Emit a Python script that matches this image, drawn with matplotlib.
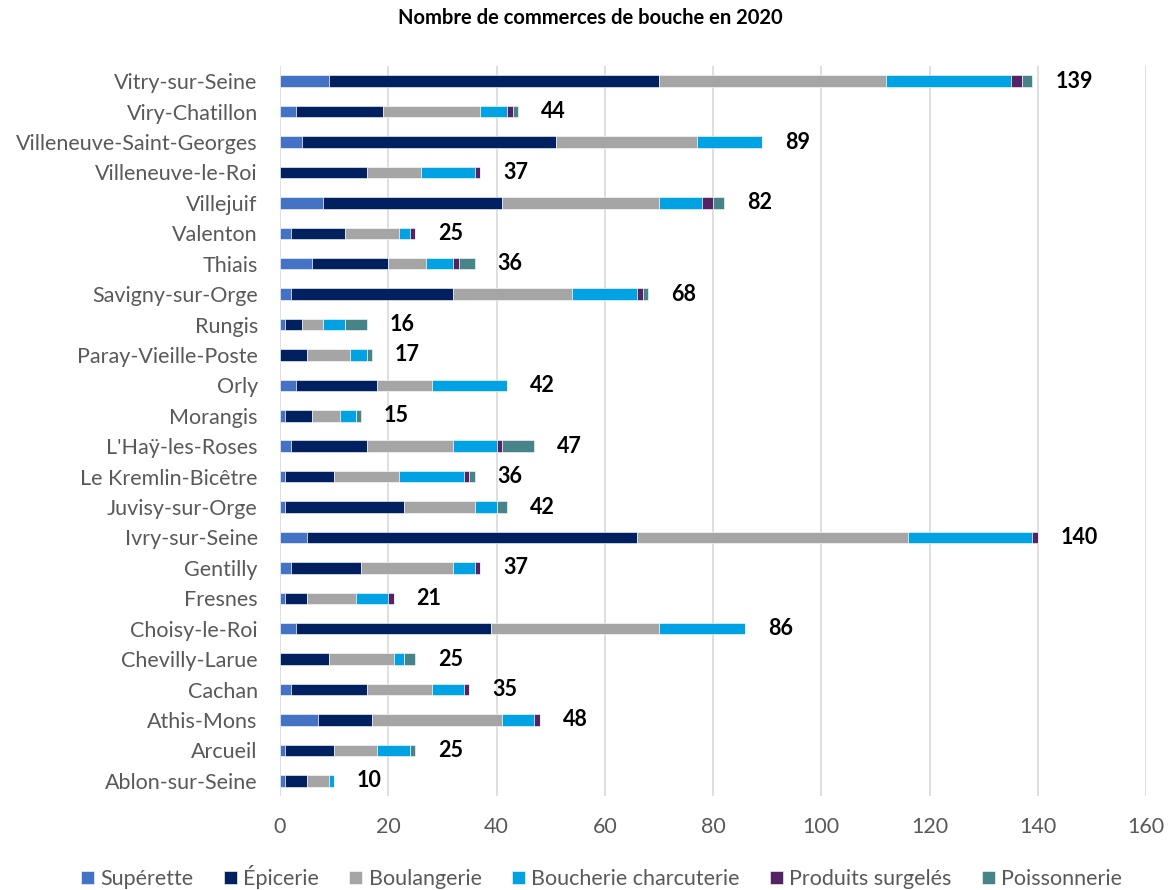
import numpy as np
import matplotlib.pyplot as plt

plt.rcParams['font.family'] = ['Lato', 'DejaVu Sans']

# communes, de bas en haut
communes = ["Ablon-sur-Seine", "Arcueil", "Athis-Mons", "Cachan", "Chevilly-Larue",
            "Choisy-le-Roi", "Fresnes", "Gentilly", "Ivry-sur-Seine", "Juvisy-sur-Orge",
            "Le Kremlin-Bicêtre", "L'Haÿ-les-Roses", "Morangis", "Orly",
            "Paray-Vieille-Poste", "Rungis", "Savigny-sur-Orge", "Thiais", "Valenton",
            "Villejuif", "Villeneuve-le-Roi", "Villeneuve-Saint-Georges",
            "Viry-Chatillon", "Vitry-sur-Seine"]

superette     = [1, 1, 7, 2, 0, 3, 1, 2, 5, 1, 1, 2, 1, 3, 0, 1, 2, 6, 2, 8, 0, 4, 3, 9]
epicerie      = [4, 9, 10, 14, 9, 36, 4, 13, 61, 22, 9, 14, 5, 15, 5, 3, 30, 14, 10, 33, 16, 47, 16, 61]
boulangerie   = [4, 8, 24, 12, 12, 31, 9, 17, 50, 13, 12, 16, 5, 10, 8, 4, 22, 7, 10, 29, 10, 26, 18, 42]
boucherie     = [1, 6, 6, 6, 2, 16, 6, 4, 23, 4, 12, 8, 3, 14, 3, 4, 12, 5, 2, 8, 10, 12, 5, 23]
surgeles      = [0, 0, 1, 1, 0, 0, 1, 1, 1, 0, 1, 1, 0, 0, 0, 0, 1, 1, 1, 2, 1, 0, 1, 2]
poissonnerie  = [0, 1, 0, 0, 2, 0, 0, 0, 0, 2, 1, 6, 1, 0, 1, 4, 1, 3, 0, 2, 0, 0, 1, 2]

series = [
    ("Supérette", superette, "#4472C4"),
    ("Épicerie", epicerie, "#002060"),
    ("Boulangerie", boulangerie, "#A5A5A5"),
    ("Boucherie charcuterie", boucherie, "#00A2E3"),
    ("Produits surgelés", surgeles, "#522463"),
    ("Poissonnerie", poissonnerie, "#468489"),
]

fig = plt.figure(figsize=(11.75, 8.9), dpi=100)
ax = fig.add_axes([280 / 1175, 1 - 796 / 890, 866 / 1175, 730 / 890])

y = np.arange(len(communes))
left = np.zeros(len(communes))
for name, vals, color in series:
    vals = np.array(vals, dtype=float)
    ax.barh(y, vals, left=left, height=0.38, color=color, label=name,
            edgecolor="white", linewidth=0.4, zorder=3)
    left += vals

# total au bout de chaque barre
for yi, tot in zip(y, left):
    ax.annotate(f"{int(tot)}", xy=(tot, yi), xytext=(16.5, 0), textcoords="offset points",
                va="center", ha="left", fontsize=15.5, fontweight="bold", color="black")

ax.set_xlim(0, 160)
ax.set_ylim(-0.5, len(communes) - 0.5)
ax.set_xticks(np.arange(0, 161, 20))
ax.set_yticks(y)
ax.set_yticklabels(communes)
ax.tick_params(axis="both", length=0, colors="#595959", labelsize=15.5)
ax.tick_params(axis="x", pad=15)
ax.tick_params(axis="y", pad=16)
ax.xaxis.grid(True, color="#D9D9D9", linewidth=1.2, zorder=0)
for s in ax.spines.values():
    s.set_visible(False)

fig.text(0.502, 1 - 18 / 890, "Nombre de commerces de bouche en 2020", ha="center", va="center",
         fontsize=14.5, fontweight="bold", color="black")

fig.legend(loc="center", bbox_to_anchor=(0.512, 1 - 877 / 890), ncol=6, frameon=False,
           fontsize=15.5, handlelength=0.6, handleheight=0.6, handletextpad=0.3,
           columnspacing=1.4, labelcolor="#595959")

fig.savefig("out.png", dpi=100)
